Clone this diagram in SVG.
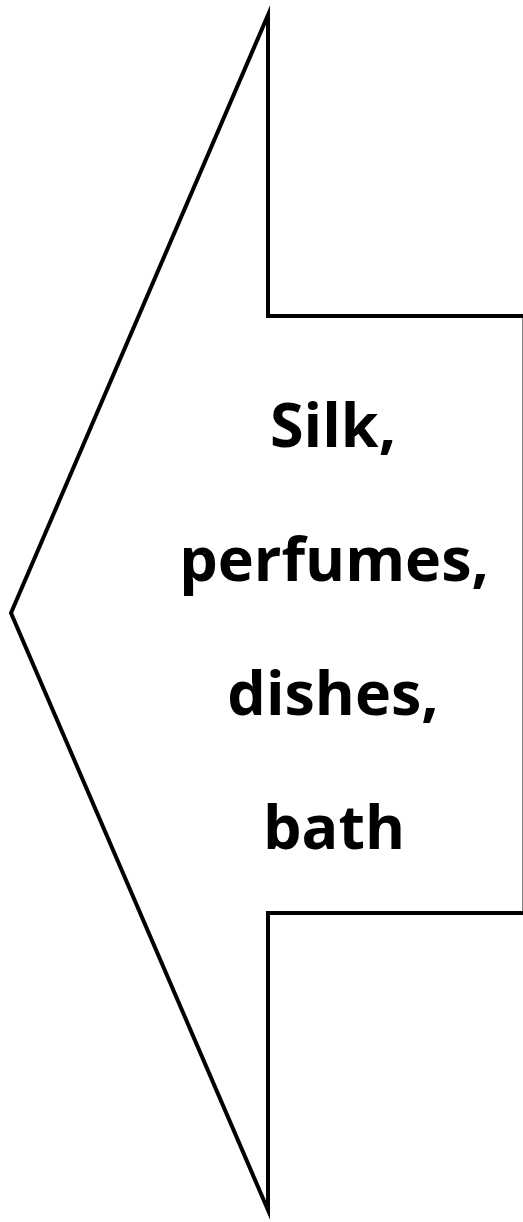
<svg xmlns="http://www.w3.org/2000/svg" width="523" height="1222" viewBox="0 0 523 1222">
<style>
.shape{fill:#fff;stroke:#000;stroke-width:4;stroke-linejoin:miter;stroke-miterlimit:12}
.lbl{font-family:"Open Sans","Noto Sans",sans-serif;font-weight:bold;font-size:61px;fill:#000;text-anchor:middle}
</style>
<rect width="523" height="1222" fill="#fff"/>
<g id="arrow">
<polygon class="shape" points="268,15 268,316 524.5,316 524.5,913 268,913 268,1210 11,613"/>
<text class="lbl" x="333" y="447">Silk,</text>
<text class="lbl" x="334" y="581">perfumes,</text>
<text class="lbl" x="333" y="715">dishes,</text>
<text class="lbl" x="334" y="849">bath</text>
</g>
<g id="connectors"/>
</svg>
